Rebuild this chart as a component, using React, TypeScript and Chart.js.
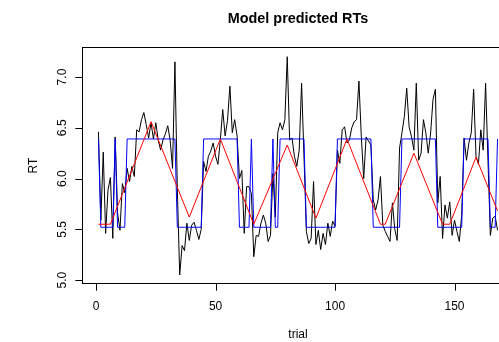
import React, { useEffect, useRef } from "react";
import { Chart, registerables } from "chart.js";

Chart.register(...registerables);

// Observed RT per trial (trial 1..168)
const rtObserved = [
  6.46, 5.59, 6.26, 5.46, 5.89, 6.01, 5.41, 6.41, 5.66, 5.49,
  5.95, 5.86, 6.10, 5.97, 6.12, 6.02, 6.48, 6.46, 6.58, 6.65,
  6.53, 6.40, 6.55, 6.39, 6.55, 6.38, 6.28, 6.38, 6.44, 6.52,
  6.38, 6.10, 7.15, 5.90, 5.05, 5.34, 5.29, 5.56, 5.39, 5.54,
  5.57, 5.49, 5.40, 5.50, 6.17, 6.07, 6.22, 6.27, 6.35, 6.22,
  6.14, 6.38, 6.68, 6.42, 6.57, 6.91, 6.45, 6.58, 6.42, 6.00,
  6.08, 5.46, 5.92, 5.92, 5.85, 5.23, 5.44, 5.43, 5.56, 5.64,
  5.56, 5.38, 5.44, 6.05, 5.62, 6.45, 6.55, 6.48, 6.58, 7.20,
  6.38, 6.40, 6.22, 6.12, 6.28, 6.94, 6.22, 5.48, 5.36, 5.41,
  5.97, 5.35, 5.49, 5.30, 5.46, 5.35, 5.56, 5.43, 5.58, 5.53,
  6.28, 6.15, 6.48, 6.51, 6.35, 6.38, 6.50, 6.56, 6.58, 6.96,
  6.41, 6.00, 6.41, 6.37, 6.33, 5.79, 5.69, 5.79, 6.02, 5.54,
  5.48, 5.43, 5.38, 5.76, 5.50, 5.39, 6.30, 6.45, 6.61, 6.89,
  6.51, 6.41, 6.28, 6.94, 6.18, 6.25, 6.58, 6.45, 6.25, 6.45,
  6.78, 6.88, 5.76, 6.02, 5.41, 5.74, 5.61, 5.77, 5.44, 5.59,
  5.48, 5.38, 5.64, 6.40, 6.18, 6.35, 6.45, 6.88, 6.22, 6.14,
  6.48, 6.28, 6.94, 6.18, 5.44, 5.61, 5.63, 5.49,
];

// Two-state model prediction per trial (blue)
const H = 6.39;
const L = 5.52;
const rtState = [
  H, L, L, L, L, L, L, H, L, L,
  L, L, H, H, H, H, H, H, H, H,
  H, H, H, H, H, H, H, H, H, H,
  H, H, H, L, L, L, L, L, L, L,
  L, L, L, L, H, H, H, H, H, H,
  H, H, H, H, H, H, H, H, H, L,
  L, L, L, L, H, L, L, L, L, L,
  L, L, L, H, L, L, H, H, H, H,
  H, H, H, H, H, H, H, L, L, L,
  L, L, L, L, L, L, L, L, L, L,
  H, H, H, H, H, H, H, H, H, H,
  H, H, H, H, H, L, L, L, L, L,
  L, L, L, L, L, L, L, H, H, H,
  H, H, H, H, H, H, H, H, H, H,
  H, H, L, L, L, L, L, L, L, L,
  L, L, L, H, H, H, H, H, H, H,
  H, H, H, H, L, L, L, H,
];

// Linear-drift model (red): turning points
const driftTrials = [1, 6, 23, 39, 52, 66, 80, 92, 105, 119, 121, 133, 145, 148, 159, 168];
const driftValues = [5.55, 5.55, 6.56, 5.62, 6.39, 5.55, 6.33, 5.61, 6.39, 5.55, 5.55, 6.25, 5.55, 5.55, 6.21, 5.68];

const xTicks = [0, 50, 100, 150];
const yTicks = [5.0, 5.5, 6.0, 6.5, 7.0];

const titleText = "Model predicted RTs";
const xLabel = "trial";
const yLabel = "RT";

const FONT = '"Liberation Sans", Arial, Helvetica, sans-serif';

const rAxesPlugin = {
  id: "rAxes",
  afterDraw(chart: any) {
    const { ctx, chartArea: a, scales } = chart;
    const x = scales.x;
    const y = scales.y;
    ctx.save();
    ctx.strokeStyle = "#000";
    ctx.lineWidth = 1;
    // box
    ctx.strokeRect(a.left, a.top, a.right - a.left, a.bottom - a.top);
    // x ticks
    ctx.fillStyle = "#000";
    ctx.font = "12px " + FONT;
    ctx.textAlign = "center";
    ctx.textBaseline = "middle";
    xTicks.forEach((v) => {
      const px = Math.round(x.getPixelForValue(v)) + 0.5;
      ctx.beginPath();
      ctx.moveTo(px, a.bottom);
      ctx.lineTo(px, a.bottom + 7.2);
      ctx.stroke();
      ctx.fillText(String(v), x.getPixelForValue(v), 306.5);
    });
    // y ticks
    yTicks.forEach((v) => {
      const py = Math.round(y.getPixelForValue(v)) + 0.5;
      ctx.beginPath();
      ctx.moveTo(a.left, py);
      ctx.lineTo(a.left - 7.2, py);
      ctx.stroke();
      ctx.save();
      ctx.translate(66, y.getPixelForValue(v));
      ctx.rotate(-Math.PI / 2);
      ctx.textAlign = "center";
      ctx.textBaseline = "alphabetic";
      ctx.fillText(v.toFixed(1), 0, 0);
      ctx.restore();
    });
    // axis titles
    ctx.textAlign = "center";
    ctx.textBaseline = "middle";
    const midX = (a.left + a.right) / 2;
    const midY = (a.top + a.bottom) / 2;
    ctx.fillText(xLabel, midX, 335);
    ctx.save();
    ctx.translate(37, midY);
    ctx.rotate(-Math.PI / 2);
    ctx.textBaseline = "alphabetic";
    ctx.fillText(yLabel, 0, 0);
    ctx.restore();
    // main title
    ctx.font = "bold 14.4px " + FONT;
    ctx.textBaseline = "alphabetic";
    ctx.fillText(titleText, midX, 23);
    ctx.restore();
  },
};

export default function App() {
  const ref = useRef<HTMLCanvasElement | null>(null);

  useEffect(() => {
    if (!ref.current) return;
    const obs = rtObserved.map((v, i) => ({ x: i + 1, y: v }));
    const state = rtState.map((v, i) => ({ x: i + 1, y: v }));
    const drift = driftTrials.map((t, i) => ({ x: t, y: driftValues[i] }));
    const chart = new Chart(ref.current, {
      type: "line",
      data: {
        datasets: [
          { data: drift, borderColor: "#ff0000", borderWidth: 1, pointRadius: 0, tension: 0, order: 0 },
          { data: state, borderColor: "#0000ff", borderWidth: 1, pointRadius: 0, tension: 0, order: 1 },
          { data: obs, borderColor: "#000000", borderWidth: 1, pointRadius: 0, tension: 0, order: 2 },
        ],
      },
      options: {
        animation: false,
        responsive: false,
        devicePixelRatio: 1,
        parsing: false as any,
        layout: { padding: { left: 82.5, right: 26.5, top: 47.5, bottom: 58.5 } },
        scales: {
          x: { type: "linear", min: -5.68, max: 174.68, display: false },
          y: { type: "linear", min: 4.966, max: 7.291, display: false },
        },
        plugins: {
          legend: { display: false },
          tooltip: { enabled: false },
          title: { display: false },
        },
        elements: { point: { radius: 0 } },
      },
      plugins: [rAxesPlugin],
    });
    return () => chart.destroy();
  }, []);

  return (
    <div
      style={{
        position: "fixed",
        left: 0,
        top: 0,
        width: 499,
        height: 342,
        overflow: "hidden",
        background: "#fff",
      }}
    >
      <canvas ref={ref} width={540} height={342} style={{ display: "block", width: 540, height: 342 }} />
    </div>
  );
}
